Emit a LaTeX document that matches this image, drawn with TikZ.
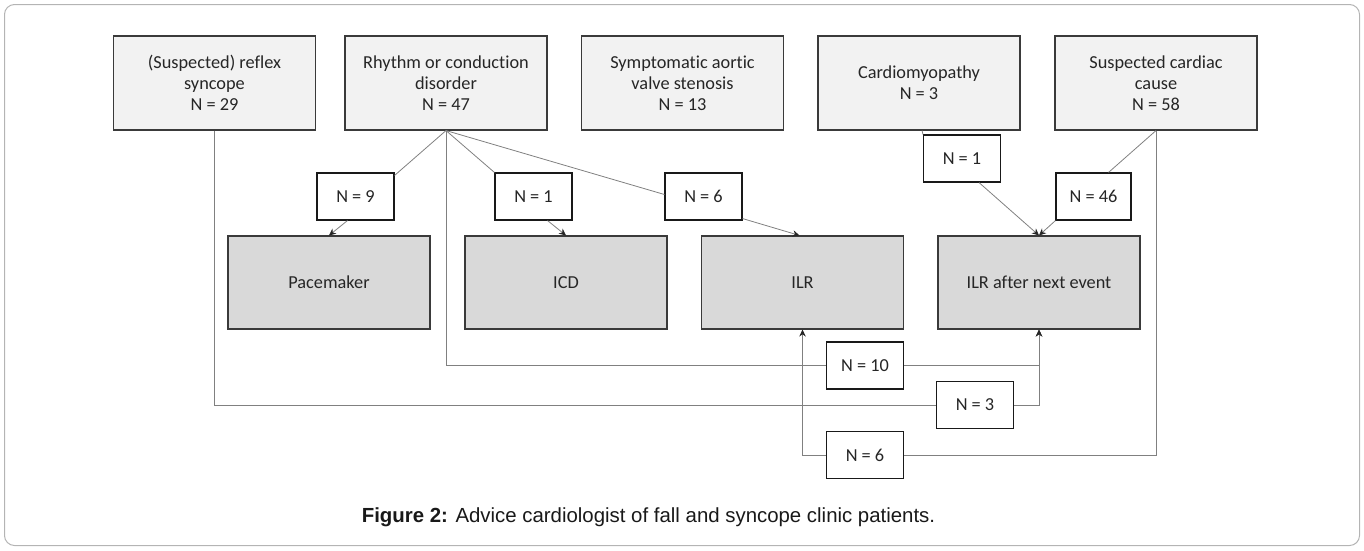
\documentclass[tikz,border=0pt]{standalone}
\usepackage{fontspec}
\setmainfont{Carlito}[Ligatures=NoCommon]
\newfontfamily\capfont{Liberation Sans}
\usetikzlibrary{arrows.meta,calc}
\definecolor{topfill}{HTML}{F2F2F2}
\definecolor{botfill}{HTML}{D9D9D9}
\definecolor{edgecol}{HTML}{3A3A3A}
\definecolor{lncol}{HTML}{808080}
\definecolor{framecol}{HTML}{B4B4B4}
\begin{document}
\begin{tikzpicture}[x=1pt,y=-1pt,
  topbox/.style={draw=edgecol, line width=1.1pt, fill=topfill, minimum width=202pt, minimum height=94pt, inner sep=0pt, align=center, text=black!85, font=\fontsize{18.3}{21}\selectfont},
  botbox/.style={topbox, fill=botfill, minimum height=93pt},
  nbox/.style={draw=black!90, line width=1.1pt, fill=white, minimum width=77pt, minimum height=47pt, inner sep=0pt, text=black!85, font=\fontsize{18.3}{21}\selectfont},
  link/.style={draw=lncol, line width=0.8pt},
  arr/.style={draw=lncol, line width=0.8pt, -{Stealth[length=7pt,width=6.5pt,color=black!85]}}
]
\useasboundingbox (0,0) rectangle (1364,550);
\draw[framecol, line width=1pt, rounded corners=10pt] (4.5,4.5) rectangle (1359.5,545.5);

\node[topbox] (b1) at (214.5,83) {(Suspected) reflex\\syncope\\N = 29};
\node[topbox] (b2) at (446,83) {Rhythm or conduction\\disorder\\N = 47};
\node[topbox] (b3) at (682.5,83) {Symptomatic aortic\\valve stenosis\\N = 13};
\node[topbox] (b4) at (919,83) {Cardiomyopathy\\N = 3};
\node[topbox] (b5) at (1156,83) {Suspected cardiac\\cause\\N = 58};

\node[botbox] (pm) at (329,282.5) {Pacemaker};
\node[botbox] (icd) at (566,282.5) {ICD};
\node[botbox] (ilr) at (802.5,282.5) {ILR};
\node[botbox] (ilra) at (1039,282.5) {ILR after next event};

\node[nbox] (n9) at (355.5,196.5) {N = 9};
\node[nbox] (n1) at (533.5,196.5) {N = 1};
\node[nbox] (n6) at (703.5,196.5) {N = 6};
\node[nbox] (n1b) at (962,158.5) {N = 1};
\node[nbox, minimum width=75pt] (n46) at (1093.5,196.5) {N = 46};
\node[nbox] (n10) at (865,365.5) {N = 10};
\node[nbox] (n3) at (975,405) {N = 3};
\node[nbox] (n6b) at (865,455) {N = 6};

\draw[link] (b2.south) -- ($(n9.north east)+(0,3)$);
\draw[arr] ($(n9.south)+(-8,0)$) -- (pm.north);
\draw[link] (b2.south) -- (n1.north west);
\draw[arr] ($(n1.south)+(14,0)$) -- (icd.north);
\draw[link] (b2.south) -- ($(n6.west)+(0,-2)$);
\draw[arr] ($(n6.south east)+(0,-2)$) -- ($(ilr.north)+(-3,0)$);
\draw[link] ($(b4.south)+(3,0)$) -- (n1b.north west);
\draw[arr] ($(n1b.south)+(17,0)$) -- (ilra.north);
\draw[link] (b5.south) -- ($(n46.north)+(15,0)$);
\draw[arr] (n46.south west) -- (ilra.north);

\draw[link] (b2.south) |- (n10.west);
\draw[arr] (n10.east) -| (ilra.south);
\draw[link] (b1.south) |- (n3.west);
\draw[arr] (n3.east) -| (ilra.south);
\draw[link] (b5.south) |- (n6b.east);
\draw[arr] (n6b.west) -| (ilr.south);

\node[font=\capfont\fontsize{20.4}{24}\selectfont, text=black!90] (cap) at (648.5,517) {\textbf{Figure 2:} Advice cardiologist of fall and syncope clinic patients.};
\end{tikzpicture}
\end{document}
